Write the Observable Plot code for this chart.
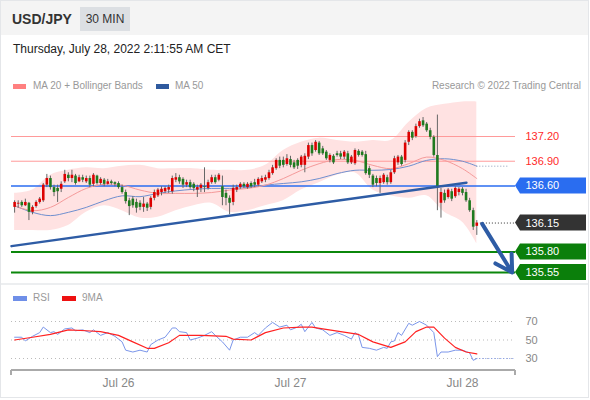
<!DOCTYPE html>
<html><head><meta charset="utf-8">
<script src="https://cdn.jsdelivr.net/npm/d3@7"></script>
<script src="https://cdn.jsdelivr.net/npm/@observablehq/plot@0.6"></script>
<style>
body{margin:0;background:#fff;font-family:"Liberation Sans",Arial,sans-serif;}
#root{position:relative;width:590px;height:400px;overflow:hidden;background:#fff;}
.abs{position:absolute;white-space:nowrap;line-height:1;}
.sw{position:absolute;height:5px;}
</style></head><body><div id="root">
<div class="abs" style="left:0;top:0;width:587px;height:396px;border:1px solid #e4e6e9;"></div>
<div class="abs" style="left:1px;top:1px;width:587px;height:34px;background:#f4f4f4;"></div>
<div class="abs" style="left:12px;top:12px;font-size:14px;font-weight:bold;color:#333;">USD/JPY</div>
<div class="abs" style="left:80px;top:7px;width:50px;height:24px;background:#dcdfe3;font-size:12px;color:#333;text-align:center;line-height:24px;">30 MIN</div>
<div class="abs" style="left:13px;top:43px;font-size:12px;color:#222;">Thursday, July 28, 2022 2:11:55 AM CET</div>
<div class="sw" style="left:13px;top:84px;width:13px;background:#ff8080;"></div>
<div class="abs" style="left:33px;top:81px;font-size:10px;color:#999;">MA 20 + Bollinger Bands</div>
<div class="sw" style="left:156px;top:84px;width:13px;background:#2f5a9e;"></div>
<div class="abs" style="left:175px;top:81px;font-size:10px;color:#999;">MA 50</div>
<div class="abs" style="right:9px;top:81px;font-size:10px;color:#999;">Research © 2022 Trading Central</div>
<div class="abs" style="left:1px;top:283px;width:587px;height:2px;background:#eceef0;"></div>
<div class="sw" style="left:13px;top:296px;width:14px;background:#6f8fe8;"></div>
<div class="abs" style="left:33px;top:293px;font-size:10px;color:#999;">RSI</div>
<div class="sw" style="left:62px;top:296px;width:14px;background:#ee1111;"></div>
<div class="abs" style="left:82px;top:293px;font-size:10px;color:#999;">9MA</div>
<div id="main" style="position:absolute;left:0;top:95px;"></div>
<div id="rsi" style="position:absolute;left:0;top:285px;"></div>
</div>
<script>
// ---- data (30-minute candles, from Jul 25 09:30 UTC) ----
const candleStart = "2022-07-25T09:30Z";
const open = [136.34,136.38,136.40,136.36,136.39,136.28,136.35,136.40,136.42,136.61,
136.69,136.58,136.57,136.56,136.65,136.73,136.69,136.72,136.65,136.70,
136.65,136.69,136.62,136.72,136.63,136.67,136.62,136.65,136.64,136.63,
136.58,136.52,136.42,136.44,136.40,136.39,136.34,136.38,136.34,136.45,
136.48,136.52,136.53,136.55,136.53,136.67,136.70,136.68,136.61,136.64,
136.62,136.55,136.57,136.59,136.57,136.64,136.70,136.67,136.59,136.51,
136.45,136.40,136.55,136.58,136.62,136.58,136.63,136.64,136.61,136.65,
136.67,136.69,136.75,136.81,136.91,136.91,136.86,136.92,136.88,136.91,
136.85,136.85,136.95,137.09,137.03,137.12,137.05,137.01,136.91,136.96,
136.99,136.99,136.95,136.99,136.88,136.87,137.02,137.01,136.98,136.81,
136.72,136.69,136.63,136.64,136.70,136.64,136.76,136.88,136.95,136.91,
137.13,137.25,137.20,137.32,137.39,137.35,137.27,137.19,136.97,136.39,
136.51,136.46,136.53,136.47,136.52,136.56,136.52,136.42,136.30,136.11];
const high = [136.42,136.42,136.42,136.44,136.40,136.36,136.42,136.46,136.63,136.74,
136.72,136.61,136.61,136.65,136.79,136.76,136.79,136.74,136.73,136.73,
136.72,136.72,136.75,136.73,136.70,136.69,136.68,136.67,136.65,136.65,
136.61,136.55,136.45,136.47,136.44,136.42,136.46,136.40,136.47,136.55,
136.57,136.59,136.59,136.61,136.72,136.75,136.73,136.70,136.67,136.67,
136.64,136.61,136.63,136.82,136.67,136.73,136.73,136.75,136.72,136.55,
136.48,136.61,136.61,136.64,136.64,136.64,136.65,136.68,136.70,136.72,
136.73,136.79,136.85,136.93,136.95,136.95,136.98,136.96,136.91,136.93,
136.97,136.99,137.12,137.12,137.15,137.14,137.08,137.03,136.99,136.98,
137.02,137.02,137.03,137.02,136.97,137.05,137.04,137.03,137.02,136.84,
136.74,136.72,136.72,136.75,136.73,136.79,136.96,136.97,136.97,137.15,
137.27,137.27,137.35,137.41,137.43,137.37,137.30,137.21,137.46,136.57,
136.55,136.57,136.56,136.59,136.58,136.58,136.56,136.45,136.33,136.18];
const low = [136.27,136.33,136.34,136.35,136.18,136.25,136.33,136.38,136.40,136.58,
136.55,136.47,136.40,136.52,136.63,136.65,136.64,136.61,136.64,136.64,
136.63,136.58,136.59,136.61,136.61,136.59,136.61,136.61,136.59,136.56,
136.50,136.38,136.24,136.33,136.27,136.30,136.28,136.29,136.31,136.42,
136.46,136.48,136.51,136.51,136.50,136.64,136.62,136.57,136.58,136.56,
136.53,136.46,136.52,136.52,136.55,136.62,136.62,136.65,136.36,136.36,
136.25,136.36,136.52,136.56,136.57,136.56,136.57,136.58,136.59,136.63,
136.64,136.67,136.73,136.79,136.81,136.82,136.84,136.82,136.80,136.80,
136.82,136.76,136.92,136.96,137.01,136.97,136.97,136.91,136.88,136.86,
136.95,136.92,136.92,136.86,136.86,136.85,136.95,136.95,136.73,136.69,
136.58,136.59,136.51,136.62,136.61,136.62,136.74,136.85,136.84,136.88,
137.09,137.15,137.18,137.30,137.31,137.25,137.16,136.95,136.30,136.21,
136.39,136.44,136.41,136.45,136.48,136.48,136.40,136.28,136.06,136.00];
const close = [136.40,136.39,136.36,136.40,136.28,136.34,136.40,136.44,136.61,136.69,
136.58,136.52,136.53,136.62,136.74,136.69,136.73,136.63,136.70,136.67,
136.69,136.61,136.73,136.63,136.68,136.62,136.65,136.63,136.62,136.58,
136.52,136.41,136.35,136.36,136.33,136.34,136.38,136.33,136.45,136.52,
136.55,136.56,136.57,136.58,136.69,136.70,136.65,136.61,136.64,136.58,
136.57,136.58,136.61,136.58,136.64,136.70,136.64,136.73,136.46,136.45,
136.39,136.57,136.58,136.62,136.59,136.62,136.59,136.61,136.68,136.69,
136.70,136.76,136.82,136.91,136.84,136.85,136.93,136.85,136.82,136.84,
136.95,136.96,137.09,136.99,137.13,136.99,136.99,136.93,136.97,136.88,
136.97,136.95,137.01,136.88,136.95,137.03,136.97,136.97,136.75,136.73,
136.61,136.63,136.69,136.73,136.64,136.76,136.93,136.95,136.86,137.12,
137.25,137.18,137.32,137.38,137.33,137.27,137.19,136.97,136.58,136.52,
136.42,136.55,136.44,136.57,136.56,136.51,136.42,136.30,136.10,136.15];

// MA / Bollinger samples (candle index -> value)
const bandIdx   = [0,5,10,15,20,25,30,35,40,45,50,55,60,65,70,75,80,85,90,95,100,105,110,115,120,125,129];
const bandUpper = [136.51,136.55,136.73,136.79,136.82,136.81,136.84,136.85,136.81,136.81,136.81,136.79,136.79,136.79,136.85,137.03,137.13,137.18,137.15,137.13,137.15,137.15,137.37,137.54,137.59,137.62,137.62];
const bandLower = [136.06,136.06,136.06,136.12,136.28,136.36,136.30,136.21,136.22,136.30,136.36,136.39,136.28,136.30,136.36,136.42,136.55,136.64,136.73,136.76,136.55,136.48,136.45,136.48,136.28,136.16,135.90];
const ma20 = [136.36,136.30,136.34,136.46,136.57,136.62,136.61,136.55,136.51,136.51,136.51,136.52,136.55,136.57,136.61,136.69,136.79,136.87,136.92,136.91,136.85,136.81,136.87,136.95,136.91,136.81,136.69];
const ma50 = [136.36,136.28,136.24,136.28,136.34,136.42,136.48,136.47,136.51,136.54,136.56,136.57,136.57,136.58,136.61,136.63,136.65,136.69,136.75,136.79,136.79,136.80,136.84,136.91,136.93,136.90,136.84];

// RSI and its 9-period MA (candle index -> value)
const rsiIdx = [0,2,3,5,7,8,10,11,12,14,16,17,19,21,22,24,26,28,30,31,33,35,37,38,40,42,44,45,46,48,49,51,53,55,56,58,60,61,63,65,67,68,70,72,74,76,77,79,80,81,83,84,86,88,90,92,94,95,96,97,99,101,103,104,105,106,107,108,110,111,113,115,117,118,119,121,123,125,127,128,129];
const rsiVal = [53,53,49,54,58,64,58,59,56,62,63,60,61,58,61,55,58,54,48,39,37,39,37,45,50,53,63,63,59,58,50,52,55,59,55,48,39,50,53,53,58,55,63,69,64,66,61,64,67,59,69,63,61,55,58,55,51,58,55,42,41,39,42,41,48,49,58,55,68,66,70,66,58,32,37,37,39,39,36,28,30];
const ma9Idx = [0,5,10,15,20,24,29,33,37,39,43,46,52,59,61,66,70,75,80,83,86,91,96,100,105,109,112,115,117,120,123,126,129];
const ma9Val = [50,53,56,61,60,59,55,48,41,41,47,55,55,54,51,50,58,63,64,64,62,59,56,48,42,48,59,64,64,52,42,37,35];

// levels and annotations
const resistance = [137.20, 136.90];
const pivotLevel = 136.60;
const supports = [135.80, 135.55];
const lastPrice = 136.15;
const trendTimes = ["2022-07-25T09:04Z", "2022-07-28T00:33Z"];
const trendPrices = [135.87, 136.64];
const arrowTimes = ["2022-07-28T02:45Z", "2022-07-28T06:56Z"];
const arrowPrices = [136.14, 135.55];
const rsiGrid = [70, 50, 30];
const tickDates = ["2022-07-26T00:00Z", "2022-07-27T00:00Z", "2022-07-28T00:00Z"];
const tickLabels = ["Jul 26", "Jul 27", "Jul 28"];
const xStart = "2022-07-25T09:04Z", xEnd = "2022-07-28T07:24Z";

// ---- build ----
const STEP = 30 * 60 * 1000;
const T0 = new Date(candleStart).getTime();
const tOf = i => new Date(T0 + i * STEP);
const candles = open.map((o, i) => ({t: tOf(i), o, h: high[i], l: low[i], c: close[i]}));
const up = candles.filter(d => d.c >= d.o), down = candles.filter(d => d.c < d.o);
const bands = bandIdx.map((k, j) => ({t: tOf(k), up: bandUpper[j], lo: bandLower[j], ma20: ma20[j], ma50: ma50[j]}));
const rsi = rsiIdx.map((k, j) => ({t: tOf(k), v: rsiVal[j]}));
const ma9 = ma9Idx.map((k, j) => ({t: tOf(k), v: ma9Val[j]}));
const xDomain = [new Date(xStart), new Date(xEnd)];
const xRange = [11, 515];
const yDomain = [135.55, 137.20], yRange = [177, 41];
const lastT = candles[candles.length - 1].t;
const afterLast = new Date(lastT.getTime() + STEP);
const trend = trendTimes.map((t, i) => ({t: new Date(t), p: trendPrices[i]}));
const arrow = [{t1: new Date(arrowTimes[0]), p1: arrowPrices[0], t2: new Date(arrowTimes[1]), p2: arrowPrices[1]}];
const badges = [
  {v: pivotLevel, fill: "#2a6df0"},
  {v: lastPrice, fill: "#333333"},
  {v: supports[0], fill: "#0b7f0b"},
  {v: supports[1], fill: "#0b7f0b"}
];
const font = "Liberation Sans, Arial, sans-serif";

const main = Plot.plot({
  width: 590, height: 188, marginLeft: 11, marginRight: 75, marginTop: 0, marginBottom: 0,
  x: {type: "utc", domain: xDomain, range: xRange, axis: null},
  y: {domain: yDomain, range: yRange, axis: null},
  style: {background: "transparent", fontFamily: font, overflow: "visible"},
  marks: [
    Plot.areaY(bands, {x: "t", y1: "lo", y2: "up", fill: "#ffe2e2", curve: "catmull-rom"}),
    Plot.ruleY(resistance, {stroke: "#ff9a9a", strokeWidth: 1}),
    Plot.ruleY([pivotLevel], {stroke: "#2a6df0", strokeWidth: 1.4}),
    Plot.ruleY(supports, {stroke: "#0b870b", strokeWidth: 2}),
    Plot.line(bands, {x: "t", y: "ma50", stroke: "#6f8fcf", strokeWidth: 1, curve: "catmull-rom"}),
    Plot.line(bands, {x: "t", y: "ma20", stroke: "#f59a9a", strokeWidth: 1, curve: "catmull-rom"}),
    Plot.ruleX(candles, {x: "t", y1: "l", y2: "h", stroke: "#666", strokeWidth: 1}),
    Plot.ruleX(up, {x: "t", y1: "o", y2: "c", stroke: "#dd0000", strokeWidth: 2.6}),
    Plot.ruleX(down, {x: "t", y1: "o", y2: "c", stroke: "#1f7a1f", strokeWidth: 2.6}),
    Plot.line(trend, {x: "t", y: "p", stroke: "#2e5ca5", strokeWidth: 2.5}),
    Plot.ruleY([lastPrice], {x1: () => afterLast, x2: () => xDomain[1], stroke: "#333", strokeDasharray: "1,2"}),
    Plot.ruleY([ma50[ma50.length - 1]], {x1: () => lastT, x2: () => new Date(xDomain[1].getTime() - STEP * 2), stroke: "#8a9bb8", strokeDasharray: "1,2"}),
    Plot.arrow(arrow, {x1: "t1", y1: "p1", x2: "t2", y2: "p2", stroke: "#2e5ca5", strokeWidth: 4, headLength: 14}),
    Plot.text(resistance, {y: d => d, text: d => d.toFixed(2), frameAnchor: "right", dx: 10, textAnchor: "start", fill: "#ff2a2a", fontSize: 11}),
    Plot.text(badges, {y: "v", text: d => d.v.toFixed(2), frameAnchor: "right", dx: 10, textAnchor: "start", fill: "white", fontSize: 11})
  ]
});
// badge shapes behind the badge labels (the last text mark), positioned with the same y scale
{
  const ys = d3.scaleLinear().domain(yDomain).range(yRange);
  const groups = main.querySelectorAll('g[aria-label="text"]');
  const tg = groups[groups.length - 1];
  const bg = d3.select(main).insert("g", () => tg);
  for (const b of badges) {
    const y = ys(b.v);
    bg.append("path").attr("d", `M${xRange[1]},${y}L${xRange[1] + 5},${y - 8}H586V${y + 8}H${xRange[1] + 5}Z`).attr("fill", b.fill);
  }
}
document.getElementById("main").appendChild(main);

const tickMap = new Map(tickDates.map((d, i) => [new Date(d).getTime(), tickLabels[i]]));
const rsiPlot = Plot.plot({
  width: 590, height: 112, marginLeft: 11, marginRight: 75, marginTop: 20, marginBottom: 27,
  x: {type: "utc", domain: xDomain, range: xRange, ticks: tickDates.map(d => new Date(d)), tickFormat: d => tickMap.get(+d), tickSize: 0, tickPadding: 8, label: null},
  y: {domain: [30, 70], range: [73, 36], axis: null},
  style: {background: "transparent", fontFamily: font, fontSize: "12px", color: "#888", overflow: "visible"},
  marks: [
    Plot.ruleY(rsiGrid, {stroke: "#bbb", strokeDasharray: "1,3"}),
    Plot.line(rsi, {x: "t", y: "v", stroke: "#7b96ea", strokeWidth: 1}),
    Plot.line(ma9, {x: "t", y: "v", stroke: "#f22", strokeWidth: 1.2}),
    Plot.ruleY([rsiVal[rsiVal.length - 1]], {x1: () => lastT, x2: () => xDomain[1], stroke: "#7b96ea", strokeDasharray: "1,2"}),
    Plot.text(rsiGrid, {y: d => d, text: d => String(d), frameAnchor: "right", dx: 10, textAnchor: "start", fill: "#888", fontSize: 11})
  ]
});
{
  const xs = d3.scaleUtc().domain(xDomain).range(xRange);
  const g = d3.select(rsiPlot).append("g").attr("stroke", "#aaa").attr("stroke-width", 2);
  const yAxis = 112 - 27;
  g.append("line").attr("x1", xs(xDomain[0])).attr("x2", xs(xDomain[1])).attr("y1", yAxis).attr("y2", yAxis);
  for (const d of xDomain) g.append("line").attr("x1", xs(d)).attr("x2", xs(d)).attr("y1", yAxis).attr("y2", yAxis + 5);
}
document.getElementById("rsi").appendChild(rsiPlot);
</script></body></html>
